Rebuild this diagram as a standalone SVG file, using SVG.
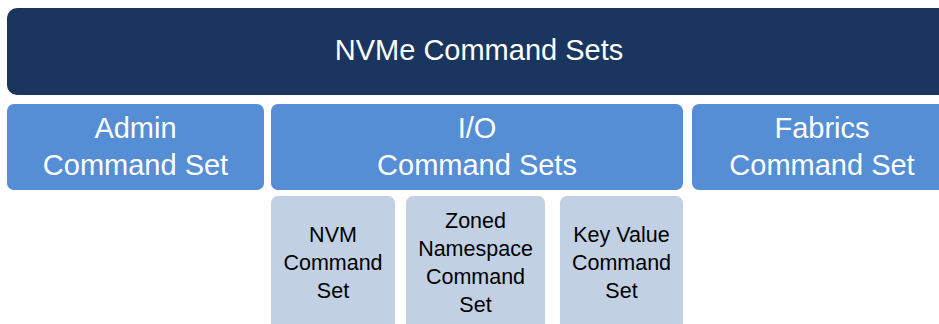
<svg xmlns="http://www.w3.org/2000/svg" width="939" height="324" viewBox="0 0 939 324">
<style>
.top{fill:#1B365E}
.mid{fill:#558ED5}
.low{fill:#C1D0E3}
text{font-family:"Liberation Sans",Arial,sans-serif;text-anchor:middle}
.t1{font-size:29px;fill:#fff}
.t2{font-size:29px;fill:#fff}
.t3{font-size:21.5px;fill:#000}
</style>
<rect width="939" height="324" fill="#fff"/>
<g id="nvme">
<rect class="top" x="7" y="8" width="945" height="87" rx="10"/>
<text class="t1" x="479" y="60">NVMe Command Sets</text>
</g>
<g id="admin">
<rect class="mid" x="7" y="104" width="257" height="86" rx="7"/>
<text class="t2" x="135.5" y="138">Admin</text>
<text class="t2" x="135.5" y="175">Command Set</text>
</g>
<g id="io">
<rect class="mid" x="271" y="104" width="412" height="86" rx="7"/>
<text class="t2" x="477" y="138">I/O</text>
<text class="t2" x="477" y="175">Command Sets</text>
</g>
<g id="fabrics">
<rect class="mid" x="692" y="104" width="260" height="86" rx="7"/>
<text class="t2" x="822" y="138">Fabrics</text>
<text class="t2" x="822" y="175">Command Set</text>
</g>
<g id="nvm">
<rect class="low" x="271" y="196" width="124" height="140" rx="7"/>
<text class="t3" x="333" y="242">NVM</text>
<text class="t3" x="333" y="270">Command</text>
<text class="t3" x="333" y="298">Set</text>
</g>
<g id="zoned">
<rect class="low" x="406" y="196" width="139" height="140" rx="7"/>
<text class="t3" x="475.5" y="228">Zoned</text>
<text class="t3" x="475.5" y="256">Namespace</text>
<text class="t3" x="475.5" y="284">Command</text>
<text class="t3" x="475.5" y="312">Set</text>
</g>
<g id="keyvalue">
<rect class="low" x="560" y="196" width="123" height="140" rx="7"/>
<text class="t3" x="621.5" y="242">Key Value</text>
<text class="t3" x="621.5" y="270">Command</text>
<text class="t3" x="621.5" y="298">Set</text>
</g>
<g id="connectors"/>
</svg>
